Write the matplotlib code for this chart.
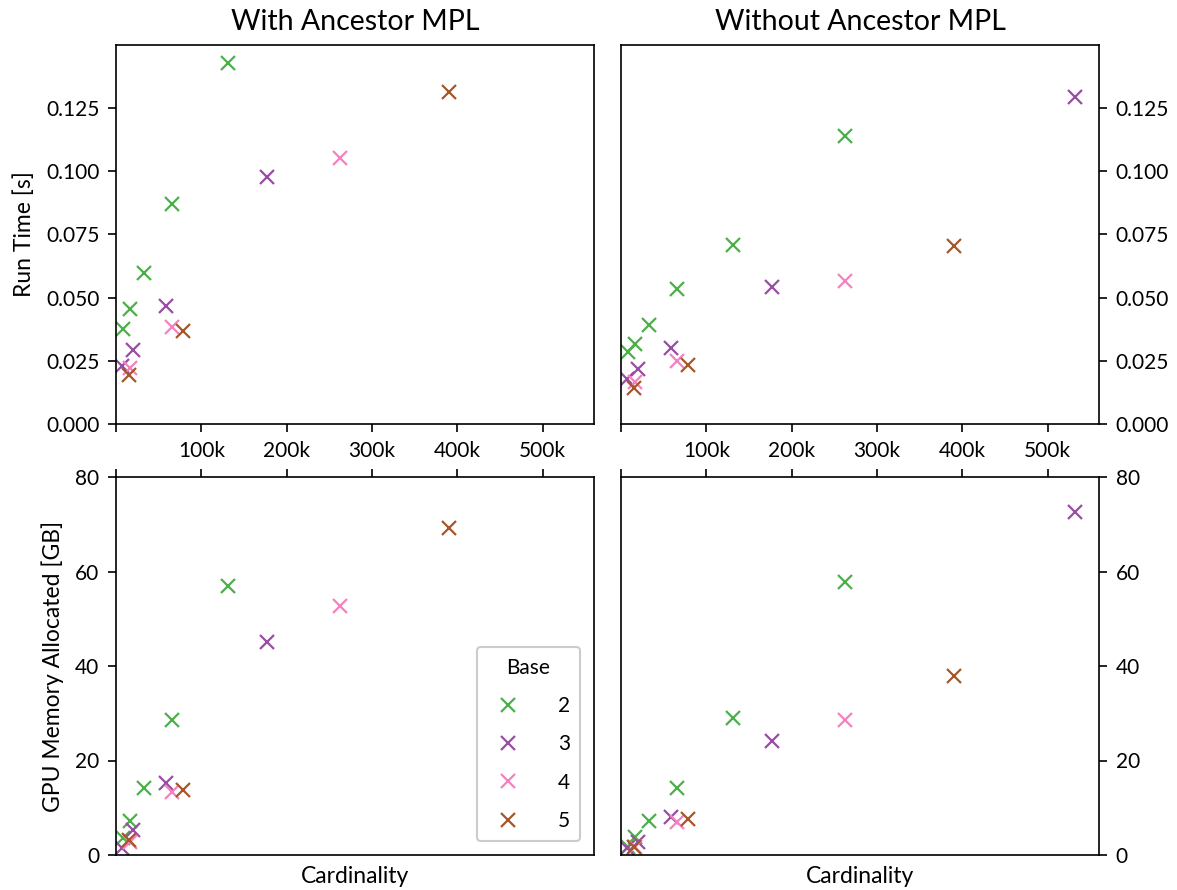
import matplotlib
matplotlib.use("Agg")
import matplotlib.pyplot as plt
from matplotlib.ticker import FuncFormatter, MultipleLocator

plt.rcParams['font.family'] = ['Lato', 'DejaVu Sans']

# cardinalities per base
card_2 = [8192, 16384, 32768, 65536, 131072, 262144]
card_3 = [6561, 19683, 59049, 177147, 531441]
card_4 = [16384, 65536, 262144]
card_5 = [15625, 78125, 390625]

# with ancestor MPL
time_with_2 = [0.0375, 0.0453, 0.0599, 0.0871, 0.1427]
time_with_3 = [0.0229, 0.0292, 0.0465, 0.0977]
time_with_4 = [0.0221, 0.0382, 0.1052]
time_with_5 = [0.0193, 0.0366, 0.1312]
mem_with_2 = [3.6, 7.2, 14.2, 28.6, 56.9]
mem_with_3 = [1.5, 5.2, 15.2, 45.0]
mem_with_4 = [2.8, 13.3, 52.8]
mem_with_5 = [3.2, 13.8, 69.2]

# without ancestor MPL
time_without_2 = [0.0284, 0.0315, 0.0390, 0.0532, 0.0709, 0.1139]
time_without_3 = [0.0177, 0.0217, 0.0299, 0.0540, 0.1292]
time_without_4 = [0.0165, 0.0248, 0.0567]
time_without_5 = [0.0142, 0.0233, 0.0705]
mem_without_2 = [1.7, 3.8, 7.2, 14.2, 28.9, 57.7]
mem_without_3 = [1.5, 2.8, 8.1, 24.2, 72.6]
mem_without_4 = [1.7, 7.0, 28.6]
mem_without_5 = [1.7, 7.6, 37.8]

bases = ["2", "3", "4", "5"]
colors = ["#4daf4a", "#984ea3", "#f781bf", "#a65628"]
cards = [card_2, card_3, card_4, card_5]

time_with = [time_with_2, time_with_3, time_with_4, time_with_5]
mem_with = [mem_with_2, mem_with_3, mem_with_4, mem_with_5]
time_without = [time_without_2, time_without_3, time_without_4, time_without_5]
mem_without = [mem_without_2, mem_without_3, mem_without_4, mem_without_5]

fig = plt.figure(figsize=(11.77, 8.9), dpi=100)
W, H = 1177, 890
def box(x0, y0, x1, y1):
    return [x0 / W, 1 - y1 / H, (x1 - x0) / W, (y1 - y0) / H]

ax_tl = fig.add_axes(box(116, 45, 594, 424))
ax_tr = fig.add_axes(box(621, 45, 1099, 424))
ax_bl = fig.add_axes(box(116, 477, 594, 855))
ax_br = fig.add_axes(box(621, 477, 1099, 855))

def draw(ax, ys):
    for c, y, col, b in zip(cards, ys, colors, bases):
        ax.plot(c[:len(y)], y, linestyle="none", marker="x", markersize=10,
                markeredgewidth=1.6, color=col, label=b)

draw(ax_tl, time_with)
draw(ax_tr, time_without)
draw(ax_bl, mem_with)
draw(ax_br, mem_without)

kfmt = FuncFormatter(lambda v, p: "" if v <= 0 else "%dk" % round(v / 1000))

for ax in [ax_tl, ax_tr, ax_bl, ax_br]:
    ax.set_xlim(0, 560000)
    ax.xaxis.set_major_locator(MultipleLocator(100000))
    for s in ax.spines.values():
        s.set_linewidth(1.2)
    ax.tick_params(width=1.2, length=5.5, labelsize=15, pad=6.5)

for ax in [ax_tl, ax_tr]:
    ax.set_ylim(0, 0.1499)
    ax.yaxis.set_major_locator(MultipleLocator(0.025))
    ax.yaxis.set_major_formatter(FuncFormatter(lambda v, p: "%.3f" % v))
    ax.xaxis.set_major_formatter(kfmt)

for ax in [ax_bl, ax_br]:
    ax.set_ylim(0, 80)
    ax.yaxis.set_major_locator(MultipleLocator(20))
    ax.tick_params(axis="x", bottom=False, top=True, labelbottom=False, labeltop=False)
    ax.set_xlabel("Cardinality", fontsize=16.5, labelpad=8)

for ax in [ax_tr, ax_br]:
    ax.yaxis.tick_right()

ax_tl.set_title("With Ancestor MPL", fontsize=20.5, pad=11)
ax_tr.set_title("Without Ancestor MPL", fontsize=20.5, pad=11)
ax_tl.set_ylabel("Run Time [s]", fontsize=16.5, labelpad=8)
ax_bl.set_ylabel("GPU Memory Allocated [GB]", fontsize=16.5, labelpad=8)

leg = ax_bl.legend(title="Base", loc="lower right", fontsize=15, title_fontsize=15,
                   handletextpad=1.4, labelspacing=0.88, borderpad=0.5,
                   borderaxespad=0.65, fancybox=True, framealpha=1)
leg.get_frame().set_edgecolor("#cccccc")
leg.get_frame().set_linewidth(1.5)

fig.savefig("out.png", dpi=100)
